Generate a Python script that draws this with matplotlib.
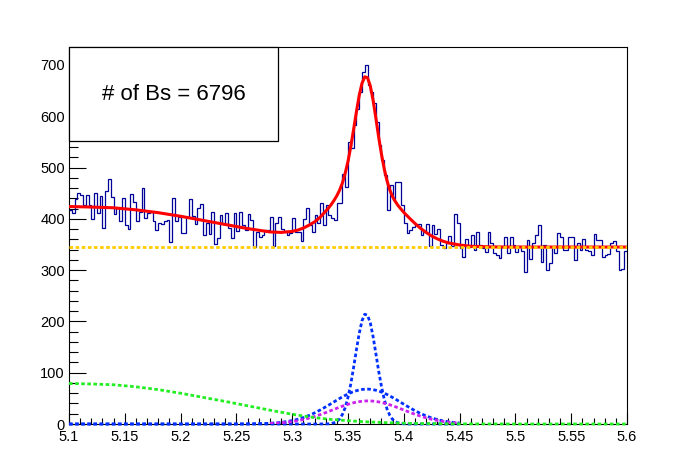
import numpy as np
import matplotlib
matplotlib.use('Agg')
import matplotlib.pyplot as plt
from matplotlib.patches import Rectangle
from matplotlib.ticker import FixedLocator, MultipleLocator, FormatStrFormatter

plt.rcParams['font.family'] = ['Liberation Sans', 'DejaVu Sans']

# histogram: 200 bins between 5.1 and 5.6
edges = np.linspace(5.1, 5.6, 201)
counts = [
    # 5.1000 - 5.2125
    417, 411, 438, 450, 447, 427, 447, 427, 399, 450, 411, 445, 383, 454, 477,
    442, 409, 422, 395, 440, 388, 380, 448, 432, 395, 414, 461, 401, 412, 414,
    395, 378, 391, 389, 395, 398, 355, 440, 395, 404, 372, 372, 404, 438, 406,
    # 5.2125 - 5.3225
    390, 421, 428, 368, 391, 370, 413, 350, 362, 407, 389, 411, 383, 362, 411,
    376, 413, 388, 379, 409, 398, 345, 375, 365, 368, 379, 379, 403, 347, 391,
    404, 381, 377, 368, 372, 401, 374, 375, 357, 399, 421, 388, 374, 407,
    # 5.3225 - 5.41
    391, 430, 388, 427, 407, 401, 398, 430, 430, 487, 463, 550, 539, 583, 615,
    648, 687, 700, 661, 648, 625, 589, 544, 515, 485, 417, 466, 437, 471, 471,
    427, 391, 372, 378, 385,
    # 5.41 - 5.505
    388, 389, 368, 375, 389, 348, 388, 370, 381, 349, 343, 353, 367, 348, 409,
    392, 343, 325, 360, 346, 368, 339, 374, 349, 343, 335, 375, 352, 333, 330,
    323, 346, 364, 333, 364, 349, 336, 348,
    # 5.505 - 5.6
    338, 296, 359, 321, 352, 368, 388, 316, 349, 300, 314, 346, 333, 372, 365,
    339, 339, 365, 364, 320, 353, 340, 360, 340, 338, 330, 370, 359, 358, 325,
    330, 332, 352, 357, 338, 300, 302, 337,
]

# fit curves
curve_x = [5.10, 5.12, 5.14, 5.16, 5.18, 5.20, 5.22, 5.24, 5.26, 5.28,
           5.29, 5.30, 5.305, 5.31, 5.315, 5.32, 5.325, 5.33,
           5.3325, 5.335, 5.3375, 5.34, 5.3425, 5.345, 5.3475, 5.35, 5.3525, 5.355,
           5.3575, 5.36, 5.3625, 5.365, 5.3675, 5.37, 5.3725, 5.375, 5.3775, 5.38,
           5.3825, 5.385, 5.3875, 5.39, 5.3925, 5.395, 5.3975, 5.40,
           5.405, 5.41, 5.415, 5.42, 5.425, 5.43, 5.435, 5.44, 5.445, 5.45,
           5.46, 5.48, 5.50, 5.52, 5.54, 5.56, 5.58, 5.60]
total_fit = [424, 423, 421.5, 417.5, 412, 405, 397, 389, 381, 374.5,
             373.5, 375.5, 378, 382, 387.5, 394, 403, 415,
             421, 428, 436, 445, 456, 470, 489, 512, 541, 574, 608, 640, 664, 677, 675, 659,
             631, 596, 559, 526, 497, 474, 456, 443, 433.5, 425.5, 419, 412.5,
             401.5, 391, 381.5, 373.5, 366.5, 361, 356.5, 353, 351, 349,
             346.5, 345.2, 345, 345, 345, 345, 345, 345]
sig_narrow = [0] * 16 + [0.1, 0.2,
              0.4, 1.1, 2.4, 5.1, 10, 18.7, 32, 52, 78, 110, 144, 176, 201, 214, 212, 197,
              170, 137, 103, 73, 48, 29, 16.6, 8.8, 4.4, 2.0, 0.9, 0.3] + [0] * 18
sig_wide = [0] * 8 + [0.2, 1.3, 3.1, 6.6, 9.2, 12.5, 16.7, 21.6, 27.2, 33.4,
            36.6, 39.9, 43.2, 46.5, 49.8, 52.9, 55.8, 58.5, 61.0, 63.1, 64.9, 66.3, 67.3, 67.9,
            68.0, 67.7, 66.9, 65.8, 64.2, 62.3, 60.0, 57.5, 54.7, 51.6, 48.5, 45.2, 41.9, 38.6,
            32.1, 26.0, 20.5, 15.8, 11.8, 8.6, 6.1, 4.3, 2.9, 1.9,
            0.8, 0, 0, 0, 0, 0, 0, 0]
peaking_bkg = [0] * 8 + [0.3, 1.0, 2.3, 4.7, 6.5, 8.7, 11.4, 14.6, 18.2, 22.2,
               24.3, 26.4, 28.6, 30.7, 32.8, 34.8, 36.6, 38.4, 40.0, 41.4, 42.7, 43.6, 44.3, 44.8,
               45.0, 44.9, 44.6, 43.9, 43.1, 41.9, 40.6, 39.1, 37.4, 35.5, 33.6, 31.5, 29.4, 27.3,
               23.1, 19.0, 15.3, 12.0, 9.2, 6.9, 5.0, 3.6, 2.5, 1.7,
               0.7, 0.1, 0, 0, 0, 0, 0, 0]
part_reco = [79, 78, 76.5, 72.5, 67, 60, 52, 44, 35.5, 27,
             23, 19, 17.3, 15.6, 14, 12.5, 11.2, 10,
             9.4, 8.9, 8.5, 8.2, 7.7, 7.3, 6.9, 6.5, 6.1, 5.7, 5.4, 5.0, 4.7, 4.4, 4.2, 3.9,
             3.7, 3.5, 3.3, 3.0, 2.8, 2.6, 2.4, 2.2, 2.0, 1.9, 1.7, 1.5,
             1.3, 1.1, 0.9, 0.8, 0.7, 0.6, 0.5, 0.4, 0.35, 0.3,
             0.2, 0.1, 0, 0, 0, 0, 0, 0]
comb_x = [5.1, 5.6]
comb_bkg = [345, 345]

n_bs = 6796

cx = np.array(curve_x)
sig_range = cx <= 5.45
peak_range = (cx >= 5.28) & (cx <= 5.45)

fig = plt.figure(figsize=(6.96, 4.72), dpi=100)
ax = fig.add_axes([69/696, 48/472, 558/696, 377/472])

ax.stairs(counts, edges, baseline=None, color='#000099', lw=0.9, zorder=2)
ax.plot(curve_x, total_fit, color='#ff0000', lw=2.2, zorder=3)

dash = (0, (1.3, 0.9))
ax.plot(cx[sig_range], np.array(sig_narrow)[sig_range], color='#0030ff', lw=2, ls=dash, zorder=4, clip_on=False)
ax.plot(cx[sig_range], np.array(sig_wide)[sig_range], color='#0030ff', lw=2, ls=dash, zorder=4, clip_on=False)
ax.plot(cx[peak_range], np.array(peaking_bkg)[peak_range], color='#cc22ee', lw=2, ls=dash, zorder=4)
ax.plot(curve_x, part_reco, color='#22ee22', lw=2, ls=dash, zorder=5, clip_on=False)
ax.plot(comb_x, comb_bkg, color='#ffcc00', lw=2, ls=dash, zorder=6)

ax.set_xlim(5.1, 5.6)
ax.set_ylim(0, 735)

# ROOT like axes
ax.xaxis.set_major_locator(FixedLocator(np.round(np.arange(5.1, 5.601, 0.05), 2)))
ax.xaxis.set_minor_locator(MultipleLocator(0.01))
ax.xaxis.set_major_formatter(FormatStrFormatter('%g'))
ax.yaxis.set_major_locator(MultipleLocator(100))
ax.yaxis.set_minor_locator(MultipleLocator(20))
ax.tick_params(axis='both', which='both', direction='in', width=0.8, labelsize=10.5, top=False, right=False)
ax.tick_params(axis='x', which='major', length=8, pad=4)
ax.tick_params(axis='x', which='minor', length=4)
ax.tick_params(axis='y', which='major', length=12.5, pad=3)
ax.tick_params(axis='y', which='minor', length=6.2)
for sp in ax.spines.values():
    sp.set_linewidth(0.8)

# yield box
ax.add_patch(Rectangle((0, 0.7507), 0.3746, 0.2493, transform=ax.transAxes,
                       fc='white', ec='black', lw=0.9, clip_on=False, zorder=10))
ax.text(0.1873, 0.8753, '# of Bs = ' + str(n_bs), transform=ax.transAxes,
        ha='center', va='center', fontsize=16, zorder=11)

fig.savefig('out.png', dpi=100)
